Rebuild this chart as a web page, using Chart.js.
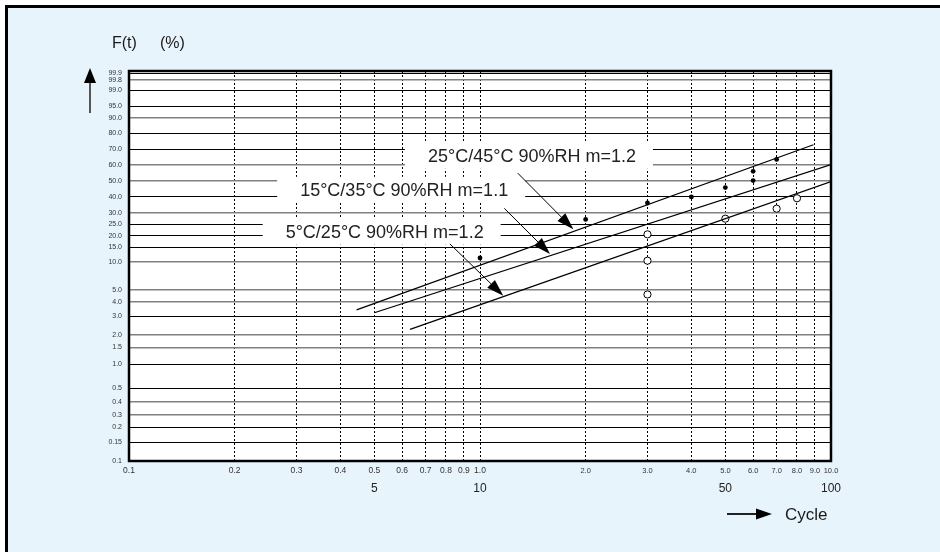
<!DOCTYPE html>
<html>
<head>
<meta charset="utf-8">
<script src="https://cdn.jsdelivr.net/npm/chart.js@4.4.1/dist/chart.umd.min.js"></script>
<style>
  html, body { margin: 0; padding: 0; background: #fff; }
  #wrap { position: relative; width: 940px; height: 552px; }
</style>
</head>
<body>
<div id="wrap"><canvas id="c" width="940" height="552"></canvas></div>
<script>
// ---- cycle axis (log scale, number of cycles) ----
const cycleTicks = [1, 2, 3, 4, 5, 6, 7, 8, 9, 10, 20, 30, 40, 50, 60, 70, 80, 90, 100];
const cycleMajorTicks = [5, 10, 50, 100];
const cycleMajorLabels = ['5', '10', '50', '100'];

// ---- cumulative failure F(t) axis, % ----
const probTicks = [0.1, 0.15, 0.2, 0.3, 0.4, 0.5, 1.0, 1.5, 2.0, 3.0, 4.0, 5.0, 10, 15, 20, 25, 30, 40, 50, 60, 70, 80, 90, 95, 99, 99.8, 99.9];
const probTickLabels = ['0.1', '0.15', '0.2', '0.3', '0.4', '0.5', '1.0', '1.5', '2.0', '3.0', '4.0', '5.0', '10.0', '15.0', '20.0', '25.0', '30.0', '40.0', '50.0', '60.0', '70.0', '80.0', '90.0', '95.0', '99.0', '99.8', '99.9'];

// ---- observed failures ----
const hotCycles = [10, 20, 30, 40, 50, 60, 60, 70];
const hotPercent = [11.2, 27.0, 35.9, 40.0, 45.6, 50.0, 55.9, 63.6];
const coldCycles = [30, 30, 30, 50, 70, 80];
const coldPercent = [4.6, 10.4, 20.5, 27.3, 32.3, 39.1];

// ---- fitted Weibull lines ----
const fitNames = ['25°C/45°C 90%RH m=1.2', '15°C/35°C 90%RH m=1.1', '5°C/25°C 90%RH m=1.2'];
const fitFromCycles = [4.45, 5.0, 6.32];
const fitFromPercent = [3.42, 3.23, 2.25];
const fitToCycles = [89.1, 100, 100];
const fitToPercent = [73.0, 60.3, 49.4];

// ---- callouts naming each fitted line ----
const noteCycles = [14.06, 6.08, 5.35];
const notePercent = [65.9, 44.2, 21.6];
const pointerFromCycles = [12.81, 11.73, 8.21];
const pointerFromPercent = [54.7, 32.5, 16.3];
const pointerToCycles = [18.45, 15.83, 11.65];
const pointerToPercent = [22.7, 12.5, 4.5];

// Printed ruling of the probability paper: height of each F(t) rule,
// 0 = the 0.1 % rule at the bottom edge, 100 = the top edge of the sheet.
const ruleHeights = [0, 4.8, 8.6, 11.9, 15.2, 18.7, 24.8, 29.1, 32.4, 37.1, 40.7, 43.9, 51.0, 54.8, 57.8, 60.7, 63.7, 67.7, 71.9, 75.9, 79.9, 84.0, 88.0, 90.9, 95.0, 97.8, 99.4];
const greyRules = new Set(['0.3', '0.4', '1.5', '2.0', '4.0', '5.0', '10.0', '30.0', '50.0', '60.0', '90.0', '99.8']);

// Weibull transform ln(-ln(1-F))
function weib(p) { const F = p / 100; return Math.log(-Math.log(1 - F)); }
// F(t) in % -> height on the paper, Weibull-interpolated between printed rules
function paper(p) {
  let i = 0;
  while (i < probTicks.length - 2 && p > probTicks[i + 1]) i++;
  const a = probTicks[i], b = probTicks[i + 1];
  const t = (weib(p) - weib(a)) / (weib(b) - weib(a));
  return ruleHeights[i] + t * (ruleHeights[i + 1] - ruleHeights[i]);
}

const FONT = "'Liberation Sans', Arial, sans-serif";
Chart.defaults.font.family = FONT;

const datasets = [];
fitNames.forEach((name, i) => {
  datasets.push({
    label: name,
    data: [
      { x: fitFromCycles[i], y: paper(fitFromPercent[i]) },
      { x: fitToCycles[i], y: paper(fitToPercent[i]) }
    ],
    showLine: true,
    borderColor: '#000',
    borderWidth: 1.2,
    pointRadius: 0,
    fill: false
  });
});
datasets.push({
  label: '25°C/45°C',
  data: hotCycles.map((c, i) => ({ x: c, y: paper(hotPercent[i]) })),
  pointRadius: 2.4,
  backgroundColor: '#000',
  borderWidth: 0
});
datasets.push({
  label: '5°C/25°C',
  data: coldCycles.map((c, i) => ({ x: c, y: paper(coldPercent[i]) })),
  pointRadius: 3.6,
  backgroundColor: '#fff',
  borderColor: '#000',
  borderWidth: 1
});

function arrow(ctx, x0, y0, x1, y1, len, half, lw, shaftColor) {
  const ang = Math.atan2(y1 - y0, x1 - x0);
  const bx = x1 - len * Math.cos(ang), by = y1 - len * Math.sin(ang);
  ctx.save();
  ctx.strokeStyle = shaftColor || '#000';
  ctx.lineWidth = lw;
  ctx.beginPath(); ctx.moveTo(x0, y0); ctx.lineTo(bx, by); ctx.stroke();
  ctx.fillStyle = '#000';
  ctx.beginPath();
  ctx.moveTo(x1, y1);
  ctx.lineTo(bx + half * Math.sin(ang), by - half * Math.cos(ang));
  ctx.lineTo(bx - half * Math.sin(ang), by + half * Math.cos(ang));
  ctx.closePath(); ctx.fill();
  ctx.restore();
}

const sheet = {
  id: 'sheet',
  beforeDraw(chart) {
    const { ctx, width, height, chartArea: a } = chart;
    ctx.save();
    ctx.fillStyle = '#fff';
    ctx.fillRect(0, 0, width, height);
    ctx.fillStyle = '#e8f4fc';
    ctx.fillRect(8, 8, width - 8, height - 8);
    ctx.fillStyle = '#000';
    ctx.fillRect(5, 5, width - 5, 3);
    ctx.fillRect(5, 5, 3, height - 5);
    ctx.fillStyle = '#fff';
    ctx.fillRect(a.left, a.top, a.right - a.left, a.bottom - a.top);
    ctx.restore();
  },
  beforeDatasetsDraw(chart) {
    const { ctx, chartArea: a, scales: { x, y } } = chart;
    ctx.save();
    // callout labels on white boxes
    ctx.font = '18px ' + FONT;
    ctx.textAlign = 'center';
    ctx.textBaseline = 'middle';
    fitNames.forEach((name, i) => {
      const px = x.getPixelForValue(noteCycles[i]);
      const py = y.getPixelForValue(paper(notePercent[i]));
      const w = ctx.measureText(name).width;
      ctx.fillStyle = '#fff';
      ctx.fillRect(px - w / 2 - 23, py - 13, w + 40, 26);
      ctx.fillStyle = '#222';
      ctx.fillText(name, px, py + 1);
    });
    // frame of the plotting area
    ctx.strokeStyle = '#000';
    ctx.lineWidth = 2.5;
    ctx.strokeRect(a.left, a.top, a.right - a.left, a.bottom - a.top);
    ctx.restore();
  },
  afterDatasetsDraw(chart) {
    const { ctx, scales: { x, y } } = chart;
    fitNames.forEach((name, i) => {
      arrow(ctx,
        x.getPixelForValue(pointerFromCycles[i]), y.getPixelForValue(paper(pointerFromPercent[i])),
        x.getPixelForValue(pointerToCycles[i]), y.getPixelForValue(paper(pointerToPercent[i])),
        17, 5.5, 1);
    });
  },
  afterDraw(chart) {
    const { ctx, chartArea: a } = chart;
    ctx.save();
    ctx.fillStyle = '#1a1a1a';
    ctx.font = '16px ' + FONT;
    ctx.textAlign = 'left';
    ctx.textBaseline = 'middle';
    ctx.fillText('F(t)', a.left - 17, a.top - 27);
    ctx.fillText('(%)', a.left + 31, a.top - 27);
    ctx.font = '17px ' + FONT;
    ctx.fillText('Cycle', a.right - 46, a.bottom + 54);
    ctx.restore();
    arrow(ctx, a.left - 39, a.top + 42, a.left - 39, a.top - 3, 15, 6, 2, '#555');
    arrow(ctx, a.right - 104, a.bottom + 53, a.right - 59, a.bottom + 53, 16, 5.5, 2, '#222');
  }
};

new Chart(document.getElementById('c'), {
  type: 'scatter',
  data: { datasets },
  options: {
    responsive: false,
    devicePixelRatio: 1,
    animation: false,
    events: [],
    layout: { padding: { left: 0, top: 71, right: 109, bottom: 41 } },
    plugins: { legend: { display: false }, tooltip: { enabled: false } },
    scales: {
      x: {
        type: 'logarithmic',
        position: 'bottom',
        weight: 0,
        min: 1,
        max: 100,
        afterBuildTicks: s => { s.ticks = cycleTicks.map(v => ({ value: v })); },
        afterFit: s => { s.height = 20; },
        grid: {
          drawTicks: false,
          lineWidth: 1,
          color: c => (c.tick && (c.tick.value === 1 || c.tick.value === 100)) ? 'rgba(0,0,0,0)' : '#000'
        },
        border: { display: false, dash: [2, 2] },
        ticks: {
          autoSkip: false,
          maxRotation: 0,
          minRotation: 0,
          padding: 4,
          color: '#333',
          font: c => ({ family: FONT, size: (c.tick && c.tick.value > 10) ? 7.5 : 8.5, lineHeight: '12px' }),
          callback: v => (v / 10).toFixed(1)
        }
      },
      x2: {
        type: 'logarithmic',
        position: 'bottom',
        weight: 1,
        min: 1,
        max: 100,
        afterBuildTicks: s => { s.ticks = cycleMajorTicks.map(v => ({ value: v })); },
        afterFit: s => { s.height = 30; },
        grid: { display: false, drawTicks: false },
        border: { display: false },
        ticks: {
          autoSkip: false,
          maxRotation: 0,
          minRotation: 0,
          padding: 1,
          color: '#222',
          font: { family: FONT, size: 12, lineHeight: '14px' },
          callback: (v, i) => cycleMajorLabels[i]
        }
      },
      y: {
        type: 'linear',
        position: 'left',
        min: 0,
        max: 100,
        afterBuildTicks: s => { s.ticks = ruleHeights.map(v => ({ value: v })); },
        afterFit: s => { s.width = 129; },
        grid: {
          drawTicks: false,
          color: c => greyRules.has(probTickLabels[c.index]) ? '#808080' : '#000',
          lineWidth: c => greyRules.has(probTickLabels[c.index]) ? 1.6 : 1
        },
        border: { display: false },
        ticks: {
          autoSkip: false,
          padding: 7,
          color: '#333',
          font: { family: FONT, size: 7 },
          callback: (v, i) => probTickLabels[i]
        }
      }
    }
  },
  plugins: [sheet]
});
</script>
</body>
</html>
